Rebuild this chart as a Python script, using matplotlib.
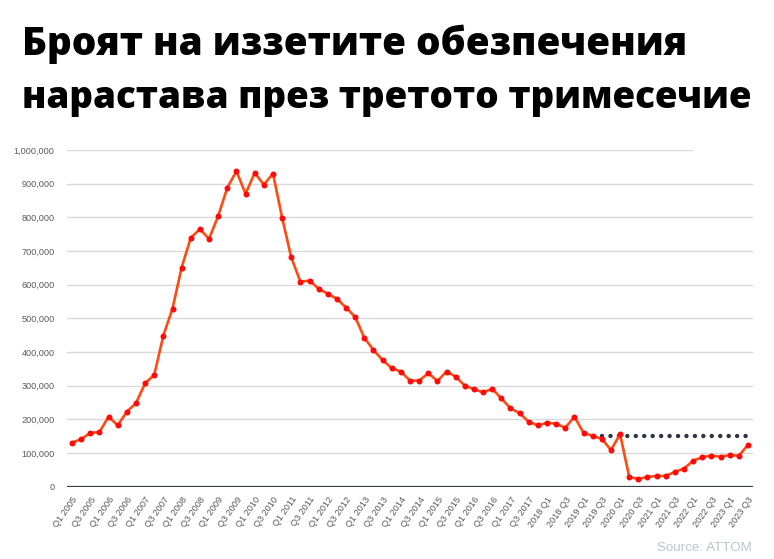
import matplotlib
matplotlib.use("Agg")
import matplotlib.pyplot as plt
from matplotlib.ticker import FuncFormatter

# ---- data ----
quarters = [f"Q{q} {y}" for y in range(2005, 2024) for q in (1, 2, 3, 4)][:75]

foreclosures = [
    131000, 141000, 160000, 162000,   # 2005
    208000, 182000, 223000, 248000,   # 2006
    307000, 332000, 449000, 529000,   # 2007
    651000, 739000, 765000, 736000,   # 2008
    804000, 888000, 937000, 870000,   # 2009
    932000, 897000, 930000, 799000,   # 2010
    681000, 609000, 612000, 588000,   # 2011
    573000, 558000, 532000, 504000,   # 2012
    442000, 406000, 376000, 352000,   # 2013
    342000, 315000, 315000, 337000,   # 2014
    314000, 342000, 327000, 300000,   # 2015
    290000, 280000, 291000, 262000,   # 2016
    233000, 218000, 193000, 182000,   # 2017
    190000, 187000, 175000, 208000,   # 2018
    160000, 151000, 142000, 109000,   # 2019
    156000, 29000, 23000, 29000,      # 2020
    32000, 32000, 44000, 54000,       # 2021
    77000, 88000, 92000, 89000,       # 2022
    94000, 92000, 124000,             # 2023
]

# pre-pandemic reference level (Q3 2019 - Q3 2023)
reference_level = 151000
reference_start = "Q3 2019"

tick_labels = [
    "Q1 2005", "Q3 2005", "Q1 2006", "Q3 2006", "Q1 2007", "Q3 2007",
    "Q1 2008", "Q3 2008", "Q1 2009", "Q3 2009", "Q1 2010", "Q3 2010",
    "Q1 2011", "Q3 2011", "Q1 2012", "Q3 2012", "Q1 2013", "Q3 2013",
    "Q1 2014", "Q3 2014", "Q1 2015", "Q3 2015", "Q1 2016", "Q3 2016",
    "Q1 2017", "Q3 2017", "2018 Q1", "2018 Q3", "2019 Q1", "2019 Q3",
    "2020 Q1", "2020 Q3", "2021 Q1", "2021 Q3", "2022 Q1", "2022 Q3",
    "2023 Q1", "2023 Q3",
]

y_ticks = [0, 100000, 200000, 300000, 400000, 500000,
           600000, 700000, 800000, 900000, 1000000]

title_lines = ["Броят на иззетите обезпечения",
               "нарастава през третото тримесечие"]
source_text = "Source: ATTOM"

# ---- figure ----
W, H = 774, 559
fig = plt.figure(figsize=(W / 100, H / 100), dpi=100)
fig.patch.set_facecolor("white")

ax_left, ax_right = 67 / W, 753 / W
ax_bottom, ax_top = 1 - 486.7 / H, 1 - 150 / H
ax = fig.add_axes([ax_left, ax_bottom, ax_right - ax_left, ax_top - ax_bottom])

x = list(range(len(foreclosures)))

# grid lines
for t in y_ticks[1:]:
    xmax = 0.911 if t == y_ticks[-1] else 1.0
    ax.axhline(t, 0, xmax, color="#D9D9D9", lw=1.0, zorder=0)
ax.axhline(0, color="#3A3F47", lw=1.6, zorder=1)

# reference dotted line
start = quarters.index(reference_start)
ref_x = x[start:]
ax.plot(ref_x, [reference_level] * len(ref_x), color="#2F3540", lw=3.2,
        linestyle=(0, (0.01, 1.89)), dash_capstyle="round", zorder=2)

# main series
ax.plot(x, foreclosures, color="#FF4A12", lw=1.9, zorder=3,
        marker="o", markersize=4.3, markerfacecolor="#FF0A0A",
        markeredgecolor="#FF0A0A", markeredgewidth=0)

ax.set_xlim(-0.55, len(foreclosures) - 1 + 0.55)
ax.set_ylim(0, 1000000)

ax.set_yticks(y_ticks)
ax.yaxis.set_major_formatter(FuncFormatter(lambda v, p: f"{int(v):,}"))
ax.set_xticks(x[::2])
ax.set_xticklabels(tick_labels, rotation=55, ha="right", va="top",
                   rotation_mode="anchor")

for lab in ax.get_yticklabels():
    lab.set_fontfamily("Liberation Sans")
    lab.set_fontsize(6.6)
    lab.set_color("#595959")
for lab in ax.get_xticklabels():
    lab.set_fontfamily("Liberation Sans")
    lab.set_fontsize(6.6)
    lab.set_color("#595959")

ax.tick_params(axis="both", length=0)
ax.tick_params(axis="y", pad=9)
ax.tick_params(axis="x", pad=6)
for s in ax.spines.values():
    s.set_visible(False)
ax.set_facecolor("white")

# title
fig.text(22 / W, 1 - 55 / H, title_lines[0], fontsize=27.8, fontweight="heavy",
         family="Open Sans", color="black", ha="left", va="baseline")
fig.text(22 / W, 1 - 108 / H, title_lines[1], fontsize=26.6, fontweight="heavy",
         family="Open Sans", color="black", ha="left", va="baseline")

# source
fig.text(752 / W, 1 - 548 / H, source_text, fontsize=9.6, family="Liberation Sans",
         color="#B9C6CF", ha="right", va="center")

fig.savefig("out.png", dpi=100)
